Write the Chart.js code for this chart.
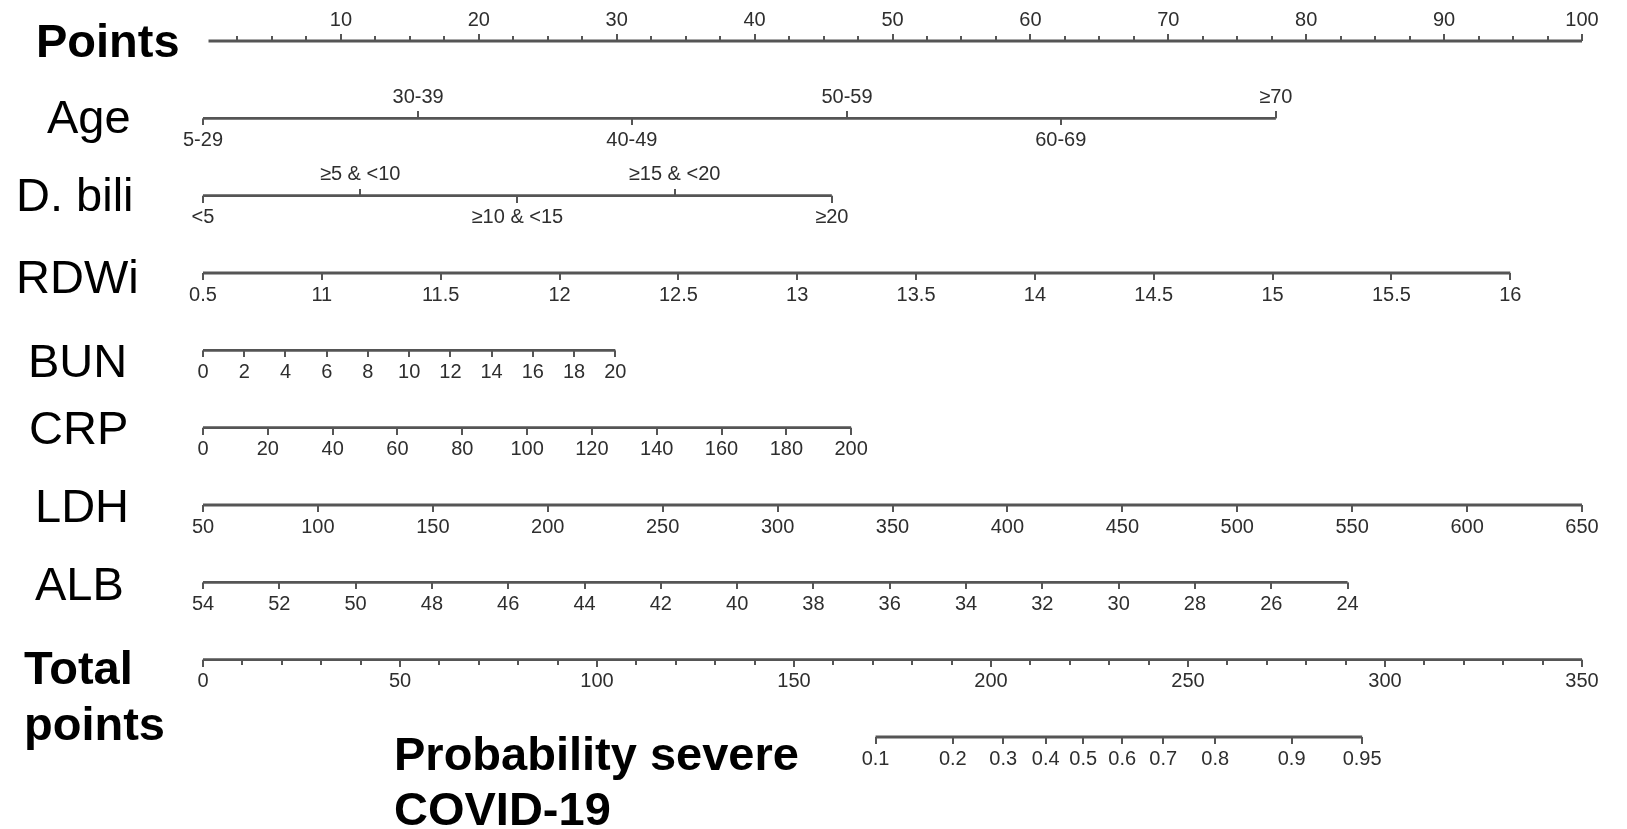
<!DOCTYPE html>
<html>
<head>
<meta charset="utf-8">
<title>Nomogram</title>
<script src="https://cdn.jsdelivr.net/npm/chart.js@4.4.1/dist/chart.umd.min.js"></script>
<style>
  html, body { margin: 0; padding: 0; background: #fff; }
  #wrap { position: relative; width: 1627px; height: 829px; }
</style>
</head>
<body>
<div id="wrap"><canvas id="nomo"></canvas></div>
<script>
// ---- data ----
// Points scale (0-100), labelled every 10, small ticks every 2.5
const pointsValues = [10, 20, 30, 40, 50, 60, 70, 80, 90, 100];
const pointsMinorStep = 2.5;

// categorical rows: label -> points
const ageLabels = ["5-29", "30-39", "40-49", "50-59", "60-69", "≥70"];
const agePoints = [0, 15.6, 31.1, 46.7, 62.2, 77.8];
const ageSides  = ["down", "up", "down", "up", "down", "up"];

const biliLabels = ["<5", "≥5 & <10", "≥10 & <15", "≥15 & <20", "≥20"];
const biliPoints = [0, 11.4, 22.8, 34.2, 45.6];
const biliSides  = ["down", "up", "down", "up", "down"];

// continuous rows: tick values, tick labels, points at first / last value
const rdwValues = [10.5, 11, 11.5, 12, 12.5, 13, 13.5, 14, 14.5, 15, 15.5, 16];
const rdwLabels = ["0.5", "11", "11.5", "12", "12.5", "13", "13.5", "14", "14.5", "15", "15.5", "16"];
const rdwRange  = [0, 94.8];

const bunValues = [0, 2, 4, 6, 8, 10, 12, 14, 16, 18, 20];
const bunRange  = [0, 29.9];

const crpValues = [0, 20, 40, 60, 80, 100, 120, 140, 160, 180, 200];
const crpRange  = [0, 47.0];

const ldhValues = [50, 100, 150, 200, 250, 300, 350, 400, 450, 500, 550, 600, 650];
const ldhRange  = [0, 100];

const albValues = [54, 52, 50, 48, 46, 44, 42, 40, 38, 36, 34, 32, 30, 28, 26, 24];
const albRange  = [0, 83.0];

// total points (0-350), labelled every 50, small ticks every 10
const totalValues = [0, 50, 100, 150, 200, 250, 300, 350];
const totalMax = 350;
const totalMinorStep = 10;

// probability: label -> total points
const probLabels = ["0.1", "0.2", "0.3", "0.4", "0.5", "0.6", "0.7", "0.8", "0.9", "0.95"];
const probTotals = [170.7, 190.3, 203.1, 213.9, 223.4, 233.3, 243.7, 256.9, 276.3, 294.2];

// ---- building the rows ----
const LINE = "#555";
const TEXT = "#2e2e2e";

function linearTicks(values, labels, range) {
  const v0 = values[0], v1 = values[values.length - 1];
  return values.map((v, i) => ({
    pts: range[0] + (v - v0) / (v1 - v0) * (range[1] - range[0]),
    label: labels ? labels[i] : String(v),
    side: "down"
  }));
}
const totalToPts = t => t * 100 / totalMax;

function minorTicks(max, step, toPts) {
  const out = [];
  for (let v = step; v < max; v += step) out.push({ pts: toPts(v), label: "", side: "minor" });
  return out;
}

const rows = [
  { ticks: pointsValues.map(v => ({ pts: v, label: String(v), side: "up" }))
      .concat(minorTicks(100, pointsMinorStep, v => v).filter(t => t.pts % 10 !== 0).map(t => ({ ...t, side: "upMinor" }))),
    from: 0.4, to: 100 },
  { ticks: ageLabels.map((l, i) => ({ pts: agePoints[i], label: l, side: ageSides[i] })) },
  { ticks: biliLabels.map((l, i) => ({ pts: biliPoints[i], label: l, side: biliSides[i] })) },
  { ticks: linearTicks(rdwValues, rdwLabels, rdwRange) },
  { ticks: linearTicks(bunValues, null, bunRange) },
  { ticks: linearTicks(crpValues, null, crpRange) },
  { ticks: linearTicks(ldhValues, null, ldhRange) },
  { ticks: linearTicks(albValues, null, albRange) },
  { ticks: totalValues.map(v => ({ pts: totalToPts(v), label: String(v), side: "down" }))
      .concat(minorTicks(totalMax, totalMinorStep, totalToPts).filter(t => Math.round(t.pts * totalMax / 100) % 50 !== 0)),
    from: 0, to: 100 },
  { ticks: probLabels.map((l, i) => ({ pts: totalToPts(probTotals[i]), label: l, side: "down" })) }
];

// row names, left-hand side
const names = [
  { text: "Points", x: 36, y: 57, bold: true },
  { text: "Age", x: 47, y: 133 },
  { text: "D. bili", x: 16, y: 211 },
  { text: "RDWi", x: 16, y: 293 },
  { text: "BUN", x: 28, y: 377 },
  { text: "CRP", x: 29, y: 444 },
  { text: "LDH", x: 35, y: 522 },
  { text: "ALB", x: 35, y: 600 },
  { text: "Total", x: 24, y: 684, bold: true },
  { text: "points", x: 24, y: 740, bold: true },
  { text: "Probability severe", x: 394, y: 770, bold: true },
  { text: "COVID-19", x: 394, y: 825, bold: true }
];

// little tick marks as point images (one side of the axis line)
function tickImage(len, dir) {
  const c = document.createElement("canvas");
  c.width = 2;
  c.height = len * 2;
  const g = c.getContext("2d");
  g.fillStyle = LINE;
  g.fillRect(0, dir === "up" ? 0 : len, 2, len);
  return c;
}
const tickStyles = {
  up: tickImage(7, "up"),
  upMinor: tickImage(5, "up"),
  down: tickImage(7, "down"),
  minor: tickImage(5, "down")
};

const datasets = [];
rows.forEach((r, i) => {
  const pts = r.ticks.map(t => t.pts);
  const from = r.from !== undefined ? r.from : Math.min(...pts);
  const to = r.to !== undefined ? r.to : Math.max(...pts);
  datasets.push({
    data: [{ x: from, y: i }, { x: to, y: i }],
    showLine: true,
    borderColor: LINE,
    borderWidth: 2.8,
    pointRadius: 0,
    clip: false
  });
  datasets.push({
    data: r.ticks.map(t => ({ x: t.pts, y: i })),
    pointStyle: r.ticks.map(t => tickStyles[t.side]),
    pointRadius: 3,
    clip: false
  });
});

const nomoText = {
  id: "nomoText",
  afterDatasetsDraw(chart) {
    const { ctx, scales: { x, y } } = chart;
    ctx.save();
    ctx.fillStyle = TEXT;
    ctx.font = '20px "Liberation Sans", Arial, sans-serif';
    ctx.textAlign = "center";
    ctx.textBaseline = "middle";
    rows.forEach((r, i) => {
      const py = y.getPixelForValue(i);
      r.ticks.forEach(t => {
        if (!t.label) return;
        const px = x.getPixelForValue(t.pts);
        ctx.fillText(t.label, px, t.side === "up" ? py - 21 : py + 22);
      });
    });
    ctx.fillStyle = "#000";
    ctx.textAlign = "left";
    ctx.textBaseline = "alphabetic";
    names.forEach(n => {
      ctx.font = (n.bold ? "bold " : "") + '47px "Liberation Sans", Arial, sans-serif';
      ctx.fillText(n.text, n.x, n.y);
    });
    ctx.restore();
  }
};

new Chart(document.getElementById("nomo"), {
  type: "scatter",
  data: { datasets },
  options: {
    responsive: true,
    maintainAspectRatio: false,
    animation: false,
    events: [],
    layout: { padding: { left: 203, right: 45, top: 41, bottom: 92 } },
    scales: {
      x: { type: "linear", min: 0, max: 100, display: false },
      y: { type: "linear", min: 0, max: 9, reverse: true, display: false }
    },
    plugins: {
      legend: { display: false },
      tooltip: { enabled: false }
    }
  },
  plugins: [nomoText]
});
</script>
</body>
</html>
